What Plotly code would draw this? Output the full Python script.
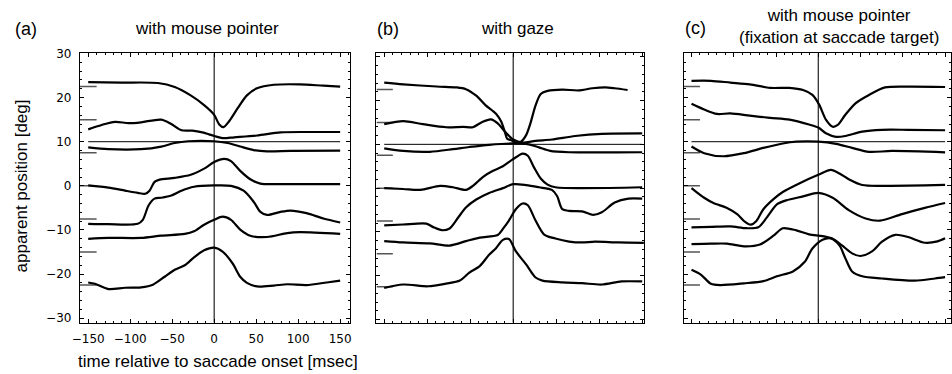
import plotly.graph_objects as go

# ---- data: (time [ms], apparent position [deg]) per trial curve ----
# (a) with mouse pointer
A1 = [(-150, 23.5), (-110, 23.4), (-67, 23.3), (-47, 22.4), (-28, 20.5), (-12, 18.3), (0, 16.1), (6, 13.9), (11, 13.3),
      (18, 14.7), (28, 17.6), (39, 20.5), (51, 22.1), (71, 22.9), (102, 23.0), (130, 22.7), (150, 22.5)]
A2 = [(-150, 12.8), (-134, 13.8), (-118, 14.5), (-102, 14.2), (-87, 14.4), (-63, 15.0), (-51, 14.0), (-39, 12.6),
      (-26, 12.5), (-14, 12.1), (0, 11.3), (10, 10.8), (24, 11.0), (51, 11.4), (79, 12.1), (110, 12.2), (150, 12.2)]
A3 = [(-150, 8.7), (-126, 8.3), (-87, 8.3), (-63, 8.9), (-47, 9.7), (-31, 10.1), (0, 10.1), (16, 9.7), (31, 8.9),
      (47, 8.1), (63, 7.8), (91, 7.9), (150, 8.0)]
A4 = [(-150, 0.1), (-126, -0.4), (-106, -1.1), (-91, -1.6), (-82, -1.8), (-77, -1.1), (-71, 0.9), (-65, 1.4),
      (-47, 1.8), (-28, 2.5), (-12, 3.9), (0, 5.4), (12, 6.1), (20, 5.6), (31, 3.4), (43, 1.5), (55, 0.5), (79, 0.4),
      (150, 0.4)]
A5 = [(-150, -8.6), (-126, -8.7), (-91, -8.6), (-85, -7.7), (-78, -4.4), (-71, -2.9), (-63, -2.7), (-51, -2.2),
      (-39, -1.1), (-24, -0.2), (0, 0.1), (20, 0.0), (35, -1.1), (47, -3.6), (55, -5.9), (63, -6.6), (79, -5.9),
      (91, -5.6), (110, -6.2), (130, -7.4), (150, -8.3)]
A6 = [(-150, -12.0), (-126, -11.8), (-87, -11.8), (-63, -11.3), (-35, -10.9), (-24, -10.3), (-12, -8.8), (0, -7.7),
      (10, -7.0), (20, -7.7), (31, -9.9), (43, -11.3), (63, -11.6), (87, -10.7), (102, -10.5), (150, -10.9)]
A7 = [(-150, -21.9), (-142, -22.2), (-126, -23.4), (-106, -23.1), (-87, -23.0), (-73, -22.4), (-59, -20.6),
      (-47, -19.0), (-35, -18.0), (-24, -16.2), (-12, -14.6), (0, -14.0), (10, -14.9), (22, -17.6), (31, -20.6),
      (39, -22.0), (51, -22.8), (71, -22.6), (87, -22.3), (110, -22.5), (134, -21.9), (150, -21.5)]

# (b) with gaze
B1 = [(-150, 24.1), (-128, 23.7), (-89, 23.2), (-66, 23.0), (-55, 22.6), (-43, 21.1), (-32, 18.9), (-20, 17.0),
      (-14, 15.2), (-10, 13.0), (-7, 11.3), (-3, 11.0), (3, 10.4), (9, 10.6), (15, 12.1), (20, 14.8), (26, 18.9),
      (32, 21.5), (40, 22.2), (57, 22.5), (76, 22.3), (92, 22.8), (107, 23.0), (118, 22.8), (133, 22.4)]
B2 = [(-150, 14.6), (-128, 15.3), (-105, 14.6), (-78, 13.9), (-58, 14.0), (-47, 13.9), (-37, 15.0), (-26, 15.7),
      (-18, 14.8), (-10, 13.0), (0, 11.1), (11, 10.4), (26, 10.8), (45, 11.1), (72, 11.9), (103, 12.4), (150, 12.5)]
B3 = [(-150, 9.1), (-128, 8.5), (-97, 8.3), (-70, 8.9), (-51, 9.4), (-28, 9.9), (0, 10.2), (18, 10.0), (30, 9.3),
      (43, 8.5), (65, 8.2), (150, 8.2)]
B4 = [(-150, 0.0), (-128, -0.2), (-108, -0.4), (-85, 0.5), (-70, 0.2), (-55, -0.4), (-47, 0.5), (-35, 2.6),
      (-24, 3.9), (-12, 5.0), (-1, 6.5), (11, 7.9), (17, 7.4), (24, 4.8), (32, 2.2), (40, 0.8), (49, 0.2), (150, 0.2)]
B5 = [(-150, -8.5), (-128, -8.3), (-101, -8.1), (-93, -8.9), (-83, -9.6), (-74, -9.2), (-64, -6.7), (-55, -4.4),
      (-43, -2.6), (-28, -1.1), (-12, 0.0), (0, 0.9), (15, 0.7), (30, 0.2), (45, -0.4), (51, -1.8), (57, -4.8),
      (65, -5.2), (80, -5.3), (93, -6.1), (103, -5.5), (118, -3.3), (134, -2.4), (150, -2.4)]
B6 = [(-150, -12.1), (-128, -12.4), (-97, -12.6), (-74, -13.1), (-55, -12.1), (-39, -11.3), (-18, -10.7),
      (-12, -9.3), (-5, -7.4), (3, -4.8), (11, -3.5), (17, -3.9), (26, -7.4), (36, -10.6), (49, -11.5), (65, -12.2),
      (80, -12.4), (95, -12.2), (122, -12.4), (152, -12.5)]
B7 = [(-150, -22.8), (-128, -22.0), (-99, -22.4), (-78, -21.8), (-62, -21.1), (-51, -19.3), (-39, -17.8),
      (-28, -15.2), (-20, -13.7), (-12, -11.8), (-5, -11.6), (3, -14.4), (15, -17.4), (26, -20.4), (34, -21.1),
      (57, -21.5), (80, -21.7), (103, -22.0), (126, -21.3), (150, -21.3)]

# (c) with mouse pointer, fixation at saccade target
C1 = [(-150, 23.8), (-127, 23.8), (-104, 23.4), (-81, 23.0), (-57, 22.2), (-34, 22.2), (-18, 21.7), (-7, 20.6),
      (1, 18.4), (9, 15.0), (17, 13.4), (23, 13.8), (32, 16.1), (44, 18.7), (60, 20.6), (79, 22.3), (106, 22.5),
      (150, 22.4)]
C2 = [(-150, 18.6), (-135, 17.3), (-120, 16.3), (-104, 16.4), (-81, 15.9), (-57, 15.4), (-34, 15.0), (-11, 13.9),
      (0, 13.2), (9, 11.9), (21, 11.1), (32, 11.3), (52, 12.3), (75, 12.7), (106, 12.7), (150, 12.6)]
C3 = [(-150, 8.9), (-135, 7.4), (-112, 6.7), (-88, 7.4), (-65, 8.6), (-42, 9.6), (-26, 10.0), (0, 10.0), (21, 9.5),
      (40, 8.6), (60, 7.7), (87, 7.9), (150, 7.6)]
C4 = [(-150, -0.5), (-135, -2.7), (-124, -3.9), (-108, -5.0), (-96, -6.4), (-87, -8.1), (-80, -8.8), (-73, -7.9),
      (-65, -5.3), (-53, -3.0), (-42, -1.4), (-22, 0.6), (0, 2.5), (15, 3.6), (25, 2.8), (36, 1.5), (52, 0.2),
      (75, 0.0), (150, 0.2)]
C5 = [(-150, -9.4), (-127, -9.3), (-104, -9.2), (-85, -9.6), (-71, -9.4), (-61, -7.2), (-49, -4.2), (-38, -3.3),
      (-18, -2.4), (0, -1.6), (17, -2.7), (36, -5.5), (56, -7.4), (73, -7.9), (99, -6.4), (126, -5.0), (150, -3.9)]
C6 = [(-150, -13.2), (-127, -13.1), (-108, -13.1), (-88, -13.7), (-69, -13.3), (-53, -11.3), (-42, -9.6),
      (-26, -10.1), (-11, -11.0), (5, -11.4), (17, -12.0), (28, -13.5), (40, -15.3), (50, -15.9), (64, -14.8),
      (75, -12.7), (91, -11.1), (106, -11.6), (126, -12.9), (141, -12.6), (150, -11.9)]
C7 = [(-150, -19.0), (-139, -20.1), (-127, -22.2), (-116, -22.5), (-88, -22.1), (-65, -21.6), (-49, -20.5),
      (-30, -19.4), (-16, -17.2), (-7, -14.2), (5, -12.2), (15, -11.9), (25, -13.5), (32, -16.4), (40, -19.4),
      (52, -20.5), (75, -21.0), (114, -21.5), (138, -21.0), (150, -20.7)]

# physical target positions (short marks at the left edge) and reference level
target_levels = [22.5, 15, 7.5, 0, -7.5, -15, -22.5]
reference_level = 10
reference_span = [-150, 150]
mark_end = -140

panel_letters = ["(a)", "(b)", "(c)"]
panel_titles = ["with mouse pointer", "with gaze",
                "with mouse pointer<br>(fixation at saccade target)"]
x_title = "time relative to saccade onset [msec]"
y_title = "apparent position [deg]"

# ---- layout geometry (pixels) ----
W, H = 952, 374
panels = [
    dict(curves=[A1, A2, A3, A4, A5, A6, A7], px=(72.5, 345.5), xr=[-160, 162], yr=[-31, 30.05], labels=True),
    dict(curves=[B1, B2, B3, B4, B5, B6, B7], px=(372, 642), xr=[-159, 152], yr=[-30.7, 30.8], labels=False),
    dict(curves=[C1, C2, C3, C4, C5, C6, C7], px=(682, 951.5), xr=[-159.4, 156.4], yr=[-31, 30.05], labels=False),
]
PY_TOP, PY_BOT = 47.5, 324.3


def fx(px):
    return px / W


def fy(py):
    return 1 - py / H


fig = go.Figure()
layout = {}
for i, p in enumerate(panels):
    s = "" if i == 0 else str(i + 1)
    xa, ya = "x" + s, "y" + s
    # target marks
    for lv in target_levels:
        fig.add_trace(go.Scatter(x=[p["xr"][0], mark_end], y=[lv, lv], mode="lines",
                                 line=dict(color="#555555", width=1.5), xaxis=xa, yaxis=ya,
                                 hoverinfo="skip", showlegend=False))
    # reference line and saccade onset
    fig.add_trace(go.Scatter(x=reference_span, y=[reference_level] * 2, mode="lines",
                             line=dict(color="black", width=1), xaxis=xa, yaxis=ya,
                             hoverinfo="skip", showlegend=False))
    fig.add_trace(go.Scatter(x=[0, 0], y=p["yr"], mode="lines",
                             line=dict(color="#222222", width=1.2), xaxis=xa, yaxis=ya,
                             hoverinfo="skip", showlegend=False))
    for c in p["curves"]:
        fig.add_trace(go.Scatter(x=[t for t, _ in c], y=[v for _, v in c], mode="lines",
                                 line=dict(color="black", width=2.2, shape="spline", smoothing=0.8),
                                 xaxis=xa, yaxis=ya, hoverinfo="skip", showlegend=False))
    common = dict(showline=True, linecolor="black", linewidth=1, mirror="allticks", ticks="inside",
                  tickcolor="black", tickwidth=1, ticklen=4, showgrid=False, zeroline=False,
                  showticklabels=p["labels"], tickfont=dict(family="DejaVu Sans", size=12, color="black"),
                  ticklabelstandoff=5)
    layout["xaxis" + s] = dict(common, domain=[fx(p["px"][0]), fx(p["px"][1])], range=p["xr"],
                               anchor=ya, tick0=0, dtick=50,
                               minor=dict(dtick=10, ticks="inside", ticklen=2, tickcolor="black"))
    layout["yaxis" + s] = dict(common, domain=[fy(PY_BOT), fy(PY_TOP)], range=p["yr"],
                               anchor=xa, tick0=0, dtick=10,
                               minor=dict(dtick=2, ticks="inside", ticklen=2, tickcolor="black"))

font_txt = "Liberation Sans, Arial, sans-serif"


def ann(text, px, py, size, angle=0):
    return dict(text=text, x=fx(px), y=fy(py), xref="paper", yref="paper", showarrow=False,
                xanchor="center", yanchor="middle", textangle=angle,
                font=dict(family=font_txt, size=size, color="black"))


annotations = [
    ann(panel_letters[0], 18.5, 23, 18),
    ann(panel_letters[1], 383.5, 23, 18),
    ann(panel_letters[2], 694, 22, 18),
    ann(panel_titles[0], 201, 22, 17),
    ann(panel_titles[1], 514, 22, 17),
    ann(panel_titles[2], 839, 20, 17),
    ann(x_title, 212, 364, 17),
    ann(y_title, 14, 183.5, 17, -90),
]

fig.update_layout(width=W, height=H, margin=dict(l=0, r=0, t=0, b=0), paper_bgcolor="white",
                  plot_bgcolor="white", annotations=annotations, **layout)
fig.write_html("out.html")
